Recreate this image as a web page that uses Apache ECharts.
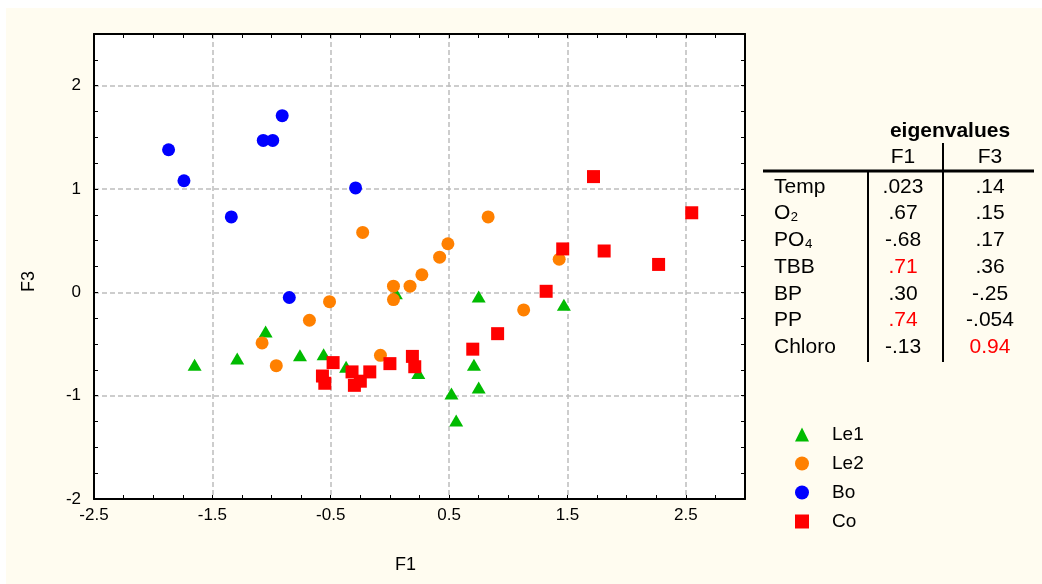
<!DOCTYPE html>
<html>
<head>
<meta charset="utf-8">
<script src="https://cdn.jsdelivr.net/npm/echarts@6/dist/echarts.min.js"></script>
<style>
  body{margin:0;background:#fff;}
  #main{width:1042px;height:584px;}
</style>
</head>
<body>
<div id="main"></div>
<script>
// scores F1 / F3 per group
var le1 = [
  [-1.65, -0.70], [-1.29, -0.64], [-1.05, -0.38], [-0.76, -0.61], [-0.56, -0.60],
  [-0.37, -0.72], [0.05, -0.01], [0.24, -0.78], [0.75, -0.04], [1.47, -0.12],
  [0.71, -0.70], [0.75, -0.92], [0.52, -0.98], [0.56, -1.24]
];
var le2 = [
  [-0.23, 0.58], [0.83, 0.73], [0.49, 0.47], [0.42, 0.34], [0.27, 0.17],
  [0.17, 0.06], [0.03, 0.06], [0.03, -0.07], [-0.51, -0.09], [-0.68, -0.27],
  [-1.08, -0.49], [-0.96, -0.71], [-0.08, -0.61], [1.43, 0.32], [1.13, -0.17]
];
var bo = [
  [-1.87, 1.38], [-1.74, 1.08], [-1.34, 0.73], [-1.07, 1.47], [-0.99, 1.47],
  [-0.91, 1.71], [-0.29, 1.01], [-0.85, -0.05]
];
var co = [
  [1.72, 1.12], [2.55, 0.77], [1.46, 0.42], [1.81, 0.40], [2.27, 0.27],
  [1.32, 0.01], [0.91, -0.40], [0.70, -0.55], [0.19, -0.62], [0.21, -0.72],
  [-0.48, -0.68], [-0.57, -0.81], [-0.55, -0.88], [-0.32, -0.77], [-0.17, -0.77],
  [-0.25, -0.86], [-0.30, -0.90], [0.00, -0.69]
];

// eigenvalue table
var tableVars = ['Temp', 'O₂', 'PO₄', 'TBB', 'BP', 'PP', 'Chloro'];
var tableF1 = ['.023', '.67', '-.68', '.71', '.30', '.74', '-.13'];
var tableF3 = ['.14', '.15', '.17', '.36', '-.25', '-.054', '0.94'];
var redF1 = [3, 5];
var redF3 = [6];

var FONT = '"Liberation Sans", Arial, sans-serif';

var myChart = echarts.init(document.getElementById('main'));

// background + table graphics
var graphics = [
  { type: 'rect', z: -10, shape: { x: 6, y: 8, width: 1036, height: 576 }, style: { fill: '#fffcf0' } },
  { type: 'text', x: 950, y: 131, style: { text: 'eigenvalues', font: 'bold 21px ' + FONT, fill: '#000', align: 'center', verticalAlign: 'middle' } },
  { type: 'text', x: 903, y: 157, style: { text: 'F1', font: '21px ' + FONT, fill: '#000', align: 'center', verticalAlign: 'middle' } },
  { type: 'text', x: 990, y: 157, style: { text: 'F3', font: '21px ' + FONT, fill: '#000', align: 'center', verticalAlign: 'middle' } },
  { type: 'line', shape: { x1: 763, y1: 171, x2: 1034, y2: 171 }, style: { stroke: '#000', lineWidth: 3 } },
  { type: 'line', shape: { x1: 868, y1: 171, x2: 868, y2: 362 }, style: { stroke: '#000', lineWidth: 2 } },
  { type: 'line', shape: { x1: 943, y1: 143, x2: 943, y2: 362 }, style: { stroke: '#000', lineWidth: 2 } }
];
for (var i = 0; i < tableVars.length; i++) {
  var ry = 187 + i * 26.7;
  graphics.push({ type: 'text', x: 774, y: ry, style: { text: tableVars[i], font: '21px ' + FONT, fill: '#000', align: 'left', verticalAlign: 'middle' } });
  graphics.push({ type: 'text', x: 903, y: ry, style: { text: tableF1[i], font: '21px ' + FONT, fill: redF1.indexOf(i) >= 0 ? '#ff0000' : '#000', align: 'center', verticalAlign: 'middle' } });
  graphics.push({ type: 'text', x: 990, y: ry, style: { text: tableF3[i], font: '21px ' + FONT, fill: redF3.indexOf(i) >= 0 ? '#ff0000' : '#000', align: 'center', verticalAlign: 'middle' } });
}

var tickStyle = { show: true, inside: true, length: 4, lineStyle: { color: '#000', width: 1 } };
var lineStyle = { show: true, onZero: false, lineStyle: { color: '#000', width: 2 } };
var gridLine = { show: true, lineStyle: { color: ['#bdbdbd', 'transparent'], type: [5, 3], width: 1.5 } };

var option = {
  textStyle: { fontFamily: FONT },
  animation: false,
  graphic: graphics,
  grid: { left: 94, top: 34, width: 651, height: 465, show: true, backgroundColor: '#fff', borderWidth: 0 },
  legend: {
    orient: 'vertical', left: 790, top: 420,
    itemWidth: 14, itemHeight: 14, itemGap: 10,
    textStyle: { fontSize: 19, color: '#000', lineHeight: 19, padding: [0, 0, 0, 18] },
    data: ['Le1', 'Le2', 'Bo', 'Co']
  },
  xAxis: [
    {
      type: 'value', min: -2.5, max: 3, interval: 0.5, position: 'bottom',
      name: 'F1', nameLocation: 'middle', nameGap: 57,
      nameTextStyle: { fontSize: 18, color: '#000', padding: [0, 28, 0, 0] },
      axisLine: lineStyle, axisTick: tickStyle,
      minorTick: { show: true, splitNumber: 2, length: 4, lineStyle: { color: '#000' } },
      splitLine: gridLine,
      axisLabel: {
        fontSize: 17, color: '#000', margin: 8,
        formatter: function (v) { return (Math.abs((v + 2.5) % 1) < 1e-6 && v < 3) ? String(v) : ''; }
      }
    },
    {
      type: 'value', min: -2.5, max: 3, interval: 0.5, position: 'top',
      axisLine: lineStyle, axisTick: tickStyle,
      minorTick: { show: true, splitNumber: 2, length: 4, lineStyle: { color: '#000' } },
      splitLine: { show: false }, axisLabel: { show: false }
    }
  ],
  yAxis: [
    {
      type: 'value', min: -2, max: 2.5, interval: 0.5, position: 'left',
      name: 'F3', nameLocation: 'middle', nameGap: 56, nameRotate: 90,
      nameTextStyle: { fontSize: 18, color: '#000', padding: [0, 30, 0, 0] },
      axisLine: lineStyle, axisTick: tickStyle,
      minorTick: { show: true, splitNumber: 2, length: 4, lineStyle: { color: '#000' } },
      splitLine: gridLine,
      axisLabel: {
        fontSize: 17, color: '#000', margin: 13,
        formatter: function (v) { return (v % 1 === 0) ? String(v) : ''; }
      }
    },
    {
      type: 'value', min: -2, max: 2.5, interval: 0.5, position: 'right',
      axisLine: lineStyle, axisTick: tickStyle,
      minorTick: { show: true, splitNumber: 2, length: 4, lineStyle: { color: '#000' } },
      splitLine: { show: false }, axisLabel: { show: false }
    }
  ],
  series: [
    { name: 'Le1', type: 'scatter', symbol: 'triangle', symbolSize: [14, 12], itemStyle: { color: '#00bb00', opacity: 1 }, data: le1 },
    { name: 'Le2', type: 'scatter', symbol: 'circle', symbolSize: 13, itemStyle: { color: '#ff8000', opacity: 1 }, data: le2 },
    { name: 'Bo', type: 'scatter', symbol: 'circle', symbolSize: 13, itemStyle: { color: '#0000ff', opacity: 1 }, data: bo },
    { name: 'Co', type: 'scatter', symbol: 'rect', symbolSize: 13, itemStyle: { color: '#ff0000', opacity: 1 }, data: co }
  ]
};

myChart.setOption(option);
</script>
</body>
</html>
